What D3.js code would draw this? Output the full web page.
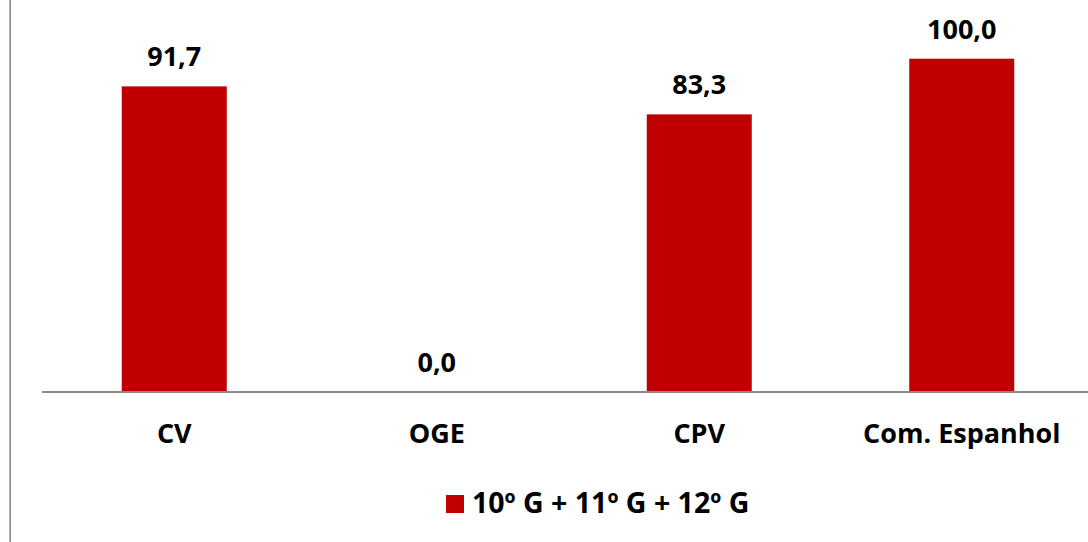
<!DOCTYPE html>
<meta charset="utf-8">
<style>
    body { margin: 0; background: #fff; }
    text { font-family: "Open Sans", sans-serif; font-weight: 700; fill: #000; }
</style>
<body>
<script src="https://d3js.org/d3.v7.min.js"></script>
<script>
    var categories = ["CV", "OGE", "CPV", "Com. Espanhol"];
    var values = [91.7, 0.0, 83.3, 100.0];
    var seriesName = "10º G + 11º G + 12º G";

    var width = 1088, height = 542;

    var svg = d3.select("body").append("svg")
        .attr("width", width)
        .attr("height", height);

    var x = d3.scaleBand()
        .domain(categories)
        .range([43, 1093])
        .paddingInner(0.6)
        .paddingOuter(0.3);

    var y = d3.scaleLinear()
        .domain([0, 100])
        .range([392, 58.7]);

    var fmt = function(v) { return d3.format(".1f")(v).replace(".", ","); };

    // left border of the plot frame
    svg.append("line")
        .attr("x1", 10.2).attr("x2", 10.2)
        .attr("y1", 0).attr("y2", height)
        .attr("stroke", "#8c8c8c")
        .attr("stroke-width", 1.7);

    svg.selectAll("rect.bar")
        .data(values)
        .enter().append("rect")
        .attr("class", "bar")
        .attr("x", function(d, i) { return x(categories[i]); })
        .attr("width", x.bandwidth())
        .attr("y", function(d) { return y(d); })
        .attr("height", function(d) { return y(0) - y(d); })
        .attr("fill", "#c00000");

    // baseline
    svg.append("line")
        .attr("x1", 42).attr("x2", width)
        .attr("y1", y(0)).attr("y2", y(0))
        .attr("stroke", "#8c8c8c")
        .attr("stroke-width", 2);

    svg.selectAll("text.value")
        .data(values)
        .enter().append("text")
        .attr("class", "value")
        .attr("x", function(d, i) { return x(categories[i]) + x.bandwidth() / 2; })
        .attr("y", function(d) { return y(d) - 20; })
        .attr("text-anchor", "middle")
        .style("font-size", "27px")
        .text(fmt);

    var xAxis = d3.axisBottom(x).tickSize(0).tickPadding(0);
    var gx = svg.append("g")
        .attr("transform", "translate(0," + 443 + ")")
        .call(xAxis);
    gx.select(".domain").remove();
    gx.selectAll("text")
        .attr("dy", 0)
        .style("font-family", "'Open Sans', sans-serif")
        .style("font-weight", 700)
        .style("font-size", "27px")
        .attr("fill", "#000");

    var legend = svg.append("g");
    legend.append("rect")
        .attr("x", 446).attr("y", 495)
        .attr("width", 18).attr("height", 18)
        .attr("fill", "#c00000");
    legend.append("text")
        .attr("x", 472).attr("y", 513)
        .style("font-size", "28.5px")
        .text(seriesName);
</script>
</body>
